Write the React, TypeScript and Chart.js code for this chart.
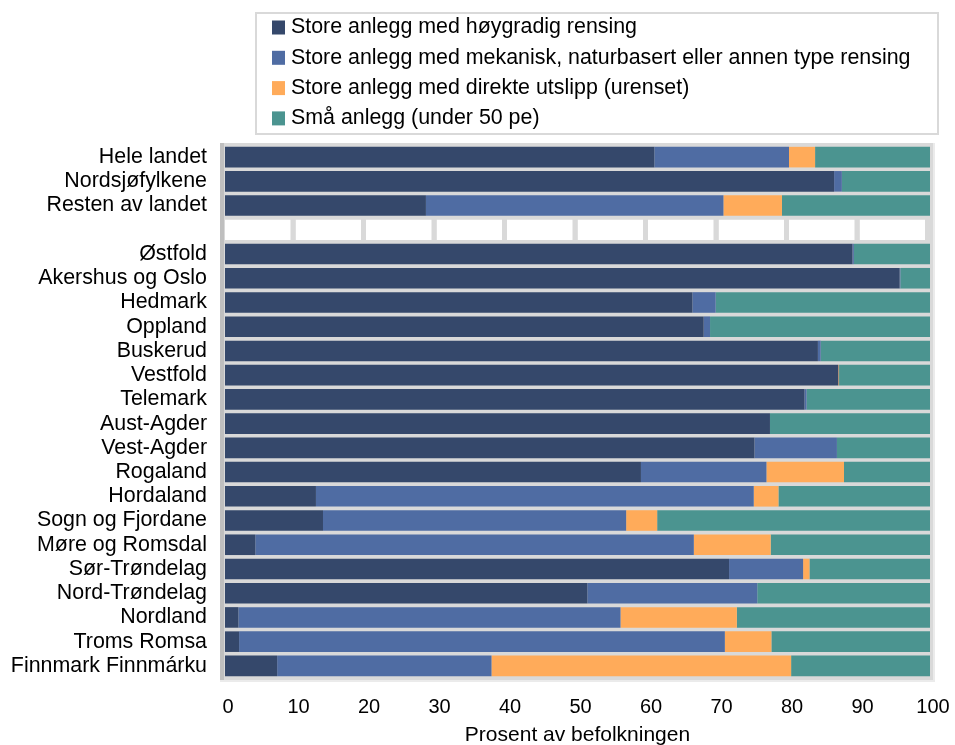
import React, { useEffect, useRef } from "react";
import { Chart, registerables } from "chart.js";

Chart.register(...registerables);

const categories = [
  "Hele landet",
  "Nordsjøfylkene",
  "Resten av landet",
  "",
  "Østfold",
  "Akershus og Oslo",
  "Hedmark",
  "Oppland",
  "Buskerud",
  "Vestfold",
  "Telemark",
  "Aust-Agder",
  "Vest-Agder",
  "Rogaland",
  "Hordaland",
  "Sogn og Fjordane",
  "Møre og Romsdal",
  "Sør-Trøndelag",
  "Nord-Trøndelag",
  "Nordland",
  "Troms Romsa",
  "Finnmark Finnmárku",
];

const seriesNames = [
  "Store anlegg med høygradig rensing",
  "Store anlegg med mekanisk, naturbasert eller annen type rensing",
  "Store anlegg med direkte utslipp (urenset)",
  "Små anlegg (under 50 pe)",
];

const hoygradig = [60.9, 86.4, 28.5, null, 89.0, 95.7, 66.3, 67.9, 84.1, 87.0, 82.2, 77.3, 75.1, 59.0, 12.9, 13.9, 4.3, 71.5, 51.4, 1.9, 2.0, 7.4];
const mekanisk = [19.1, 1.1, 42.2, null, 0.2, 0.1, 3.3, 0.9, 0.4, 0, 0.3, 0, 11.7, 17.8, 62.1, 43.0, 62.2, 10.5, 24.1, 54.2, 68.9, 30.4];
const direkte = [3.7, 0, 8.3, null, 0, 0, 0, 0, 0, 0.1, 0, 0, 0, 11.0, 3.5, 4.4, 10.9, 0.9, 0, 16.5, 6.6, 42.5];
const smaAnlegg = [16.3, 12.5, 21.0, null, 10.8, 4.2, 30.4, 31.2, 15.5, 12.9, 17.5, 22.7, 13.2, 12.2, 21.5, 38.7, 22.6, 17.1, 24.5, 27.4, 22.5, 19.7];

// the empty separator row is drawn as ten blank cells
const separatorRow = 3;
const separatorCells = [10, 10, 10, 10, 10, 10, 10, 10, 10, 10];

const xTicks = [0, 10, 20, 30, 40, 50, 60, 70, 80, 90, 100];
const xTitle = "Prosent av befolkningen";

const seriesColors = ["#35486b", "#4f6ca3", "#ffab5a", "#4b9490"];
const FONT = "'Liberation Sans', Arial, sans-serif";
const GRAY = "#d9d9d9";

const framePlugin = {
  id: "plotFrame",
  beforeDatasetsDraw(chart: any) {
    const { ctx, chartArea } = chart;
    const { left, top, right, bottom } = chartArea;
    ctx.save();
    ctx.fillStyle = "#ebebeb";
    ctx.fillRect(left - 5, top - 2, right - left + 10, bottom - top + 6);
    ctx.fillStyle = GRAY;
    ctx.fillRect(left - 5, top - 2, right - left + 8, bottom - top + 4);
    ctx.fillStyle = "#bfbfbf";
    ctx.fillRect(left - 5, top - 2, 4, bottom - top + 4);
    ctx.restore();
  },
};

const legendPlugin = {
  id: "boxLegend",
  afterDraw(chart: any) {
    const { ctx } = chart;
    const items = chart.data.datasets.filter((d: any) => !d.isSeparator);
    ctx.save();
    ctx.strokeStyle = GRAY;
    ctx.lineWidth = 2;
    ctx.strokeRect(248, 5, 682, 121);
    ctx.font = `21.4px ${FONT}`;
    ctx.textBaseline = "middle";
    ctx.textAlign = "left";
    items.forEach((d: any, i: number) => {
      const cy = 19.5 + i * 30.3;
      ctx.fillStyle = d.backgroundColor;
      ctx.fillRect(264, cy - 7, 13, 14);
      ctx.fillStyle = "#000";
      ctx.fillText(d.label, 283, cy);
    });
    ctx.restore();
  },
};

export default function App() {
  const ref = useRef<HTMLCanvasElement | null>(null);

  useEffect(() => {
    if (!ref.current) return;
    const mainSets = [hoygradig, mekanisk, direkte, smaAnlegg].map((data, i) => ({
      label: seriesNames[i],
      data,
      backgroundColor: seriesColors[i],
      borderWidth: 0,
      stack: "s",
      barPercentage: 0.85,
      categoryPercentage: 1,
    }));
    const sepSets = separatorCells.map((v, i) => ({
      label: "sep" + i,
      isSeparator: true,
      data: categories.map((_, j) => (j === separatorRow ? v : null)),
      backgroundColor: "#ffffff",
      borderColor: GRAY,
      borderWidth: { left: 0, right: 5, top: 0, bottom: 0 },
      borderSkipped: false,
      stack: "s",
      barPercentage: 0.85,
      categoryPercentage: 1,
    }));

    const chart = new Chart(ref.current, {
      type: "bar",
      data: { labels: categories, datasets: [...mainSets, ...sepSets] as any },
      options: {
        indexAxis: "y",
        responsive: false,
        animation: false,
        devicePixelRatio: 1,
        layout: { padding: { top: 137, right: 25, left: 0, bottom: 0 } },
        plugins: {
          legend: { display: false },
          tooltip: { enabled: false },
        },
        scales: {
          x: {
            stacked: true,
            min: 0,
            max: 100,
            afterBuildTicks: (scale: any) => {
              scale.ticks = xTicks.map((v) => ({ value: v }));
            },
            afterFit: (scale: any) => {
              scale.height = 67;
              scale.paddingLeft = 0;
              scale.paddingRight = 0;
            },
            grid: { display: false, drawTicks: false },
            border: { display: false },
            ticks: {
              color: "#000",
              padding: 17,
              labelOffset: 3,
              font: { family: FONT, size: 20 },
              maxRotation: 0,
            },
            title: {
              display: true,
              text: xTitle,
              color: "#000",
              font: { family: FONT, size: 21, lineHeight: 0.9 },
              padding: { top: 0, bottom: 0 },
            },
          },
          y: {
            stacked: true,
            afterFit: (scale: any) => {
              scale.width = 217;
              scale.paddingTop = 0;
              scale.paddingBottom = 0;
            },
            grid: { display: false, drawTicks: false },
            border: { display: false },
            ticks: {
              color: "#000",
              padding: 18,
              autoSkip: false,
              font: { family: FONT, size: 21.4 },
            },
          },
        },
      },
      plugins: [framePlugin, legendPlugin],
    });
    return () => chart.destroy();
  }, []);

  return (
    <canvas
      ref={ref}
      width={947}
      height={737}
      style={{ position: "fixed", left: 8, top: 8, width: 947, height: 737, display: "block" }}
    />
  );
}
